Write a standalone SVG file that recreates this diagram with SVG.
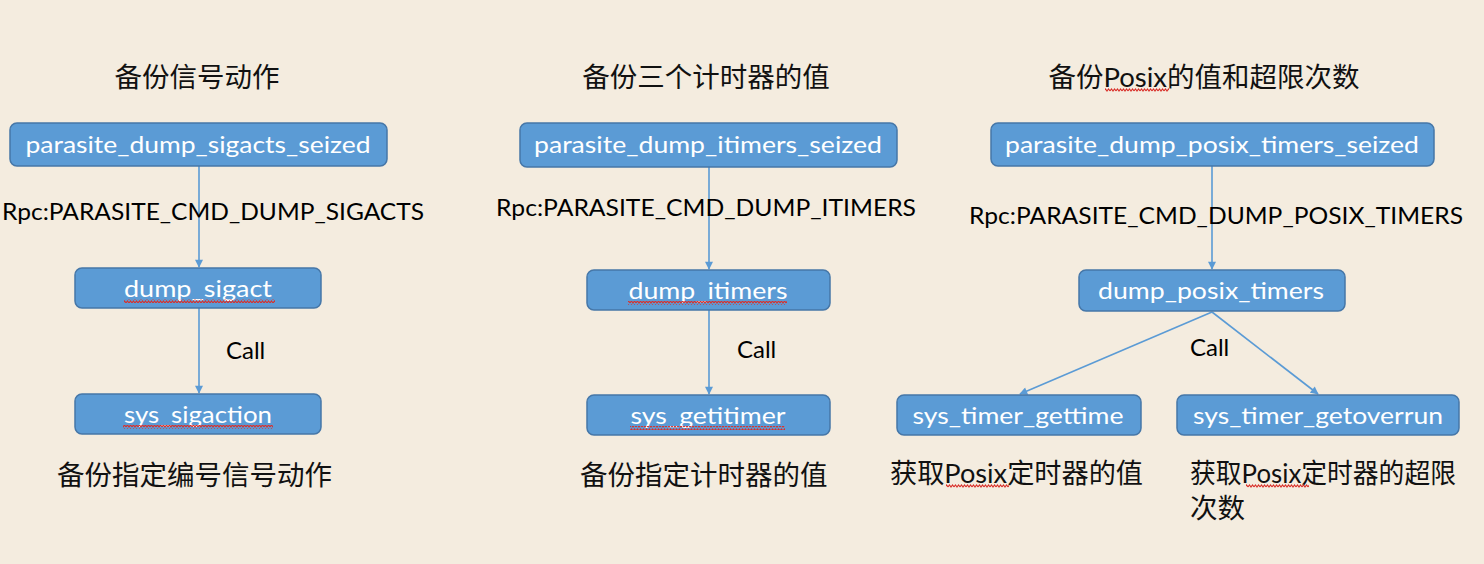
<svg xmlns="http://www.w3.org/2000/svg" width="1484" height="564" viewBox="0 0 1484 564">
<defs>
<style>
.node rect.box{fill:#5b9bd5;stroke:#4677a8;stroke-width:1.5}
.nt{font-family:Lato,"Open Sans","Liberation Sans",sans-serif;font-size:24px;fill:#ffffff;text-anchor:middle}
.lbl{font-family:Lato,"Open Sans","Liberation Sans",sans-serif;font-size:24px;fill:#000000}
.cjk{font-family:Lato,"Noto Sans CJK SC",sans-serif;font-size:27.5px;fill:#111111;font-weight:400}
.conn line{stroke:#5b9bd5;stroke-width:1.6;fill:none}
rect.wave{fill:url(#wave);stroke:none}
</style>
<marker id="arr" viewBox="0 0 10 10" refX="9" refY="5" markerWidth="9" markerHeight="8" orient="auto" markerUnits="userSpaceOnUse">
<path d="M0,0 L10,5 L0,10 z" fill="#5b9bd5"/>
</marker>
<pattern id="wave" width="6" height="4" patternUnits="userSpaceOnUse">
<path d="M0,3 L1.5,1 L3,3 L4.5,1 L6,3" stroke="#d9302a" stroke-width="1.1" fill="none"/>
</pattern>
</defs>
<rect width="1484" height="564" fill="#f4ecdf"/>

<g id="connectors" class="conn">
<line x1="199" y1="166" x2="199" y2="267" marker-end="url(#arr)"/>
<line x1="199" y1="308" x2="199" y2="393" marker-end="url(#arr)"/>
<line x1="709" y1="167" x2="709" y2="269" marker-end="url(#arr)"/>
<line x1="709" y1="310" x2="709" y2="394" marker-end="url(#arr)"/>
<line x1="1212" y1="166" x2="1212" y2="269" marker-end="url(#arr)"/>
<line x1="1212" y1="312" x2="1020" y2="394" marker-end="url(#arr)"/>
<line x1="1212" y1="312" x2="1318" y2="394" marker-end="url(#arr)"/>
</g>

<g id="labels">
<text class="cjk" x="197" y="87" text-anchor="middle">备份信号动作</text>
<text class="cjk" x="706" y="87" text-anchor="middle">备份三个计时器的值</text>
<text class="cjk" x="1204" y="87" text-anchor="middle">备份Posix的值和超限次数</text>
<rect class="wave" x="1105" y="88" width="64" height="4"/>
<text class="lbl" x="2" y="220" textLength="422" lengthAdjust="spacingAndGlyphs">Rpc:PARASITE_CMD_DUMP_SIGACTS</text>
<text class="lbl" x="496" y="216" textLength="420" lengthAdjust="spacingAndGlyphs">Rpc:PARASITE_CMD_DUMP_ITIMERS</text>
<text class="lbl" x="969" y="224" textLength="494" lengthAdjust="spacingAndGlyphs">Rpc:PARASITE_CMD_DUMP_POSIX_TIMERS</text>
<text class="lbl" x="226" y="359">Call</text>
<text class="lbl" x="737" y="358">Call</text>
<text class="lbl" x="1190" y="356">Call</text>
<text class="cjk" x="57" y="485">备份指定编号信号动作</text>
<text class="cjk" x="580" y="485">备份指定计时器的值</text>
<text class="cjk" x="890" y="483" textLength="253" lengthAdjust="spacingAndGlyphs">获取Posix定时器的值</text>
<rect class="wave" x="946" y="484" width="63" height="4"/>
<text class="cjk" x="1190" y="483" textLength="266" lengthAdjust="spacingAndGlyphs">获取Posix定时器的超限</text>
<rect class="wave" x="1246" y="484" width="63" height="4"/>
<text class="cjk" x="1190" y="518">次数</text>
</g>

<g id="n_sigacts_seized" class="node">
<rect class="box" x="10" y="123" width="377" height="43" rx="7"/>
<text class="nt" x="198" y="153" textLength="345" lengthAdjust="spacingAndGlyphs">parasite_dump_sigacts_seized</text>
</g>
<g id="n_dump_sigact" class="node">
<rect class="box" x="75" y="268" width="246" height="40" rx="7"/>
<text class="nt" x="198" y="297" textLength="148" lengthAdjust="spacingAndGlyphs">dump_sigact</text>
<rect class="wave" x="124" y="299" width="151" height="4"/>
</g>
<g id="n_sys_sigaction" class="node">
<rect class="box" x="75" y="394" width="246" height="40" rx="7"/>
<text class="nt" x="198" y="423" textLength="148" lengthAdjust="spacingAndGlyphs">sys_sigaction</text>
<rect class="wave" x="123" y="425" width="150" height="4"/>
</g>

<g id="n_itimers_seized" class="node">
<rect class="box" x="520" y="123" width="377" height="44" rx="7"/>
<text class="nt" x="708" y="153" textLength="348" lengthAdjust="spacingAndGlyphs">parasite_dump_itimers_seized</text>
</g>
<g id="n_dump_itimers" class="node">
<rect class="box" x="587" y="270" width="243" height="40" rx="7"/>
<text class="nt" x="708" y="299" textLength="159" lengthAdjust="spacingAndGlyphs">dump_itimers</text>
<rect class="wave" x="628" y="301" width="159" height="4"/>
</g>
<g id="n_sys_getitimer" class="node">
<rect class="box" x="587" y="395" width="243" height="40" rx="7"/>
<text class="nt" x="708" y="424" textLength="155" lengthAdjust="spacingAndGlyphs">sys_getitimer</text>
<rect class="wave" x="630" y="426" width="155" height="4"/>
</g>

<g id="n_posix_seized" class="node">
<rect class="box" x="991" y="123" width="443" height="43" rx="7"/>
<text class="nt" x="1212" y="153" textLength="414" lengthAdjust="spacingAndGlyphs">parasite_dump_posix_timers_seized</text>
</g>
<g id="n_dump_posix_timers" class="node">
<rect class="box" x="1079" y="270" width="266" height="41" rx="7"/>
<text class="nt" x="1211" y="299" textLength="226" lengthAdjust="spacingAndGlyphs">dump_posix_timers</text>
</g>
<g id="n_sys_timer_gettime" class="node">
<rect class="box" x="897" y="395" width="244" height="40" rx="7"/>
<text class="nt" x="1018" y="424" textLength="211" lengthAdjust="spacingAndGlyphs">sys_timer_gettime</text>
</g>
<g id="n_sys_timer_getoverrun" class="node">
<rect class="box" x="1177" y="395" width="282" height="40" rx="7"/>
<text class="nt" x="1318" y="424" textLength="250" lengthAdjust="spacingAndGlyphs">sys_timer_getoverrun</text>
</g>
</svg>
